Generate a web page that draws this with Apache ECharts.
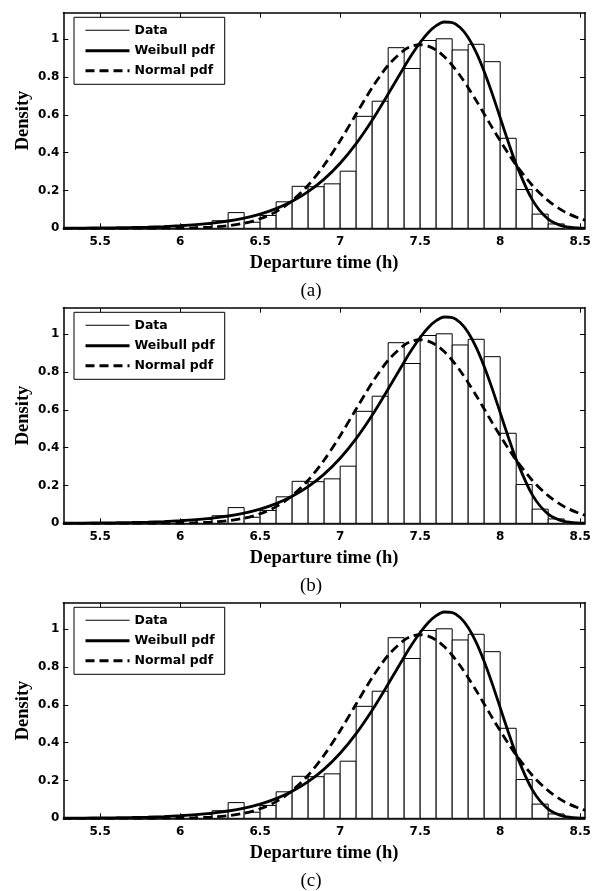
<!DOCTYPE html>
<html>
<head>
<meta charset="utf-8">
<script src="https://cdn.jsdelivr.net/npm/echarts@6/dist/echarts.min.js"></script>
<style>
  html, body { margin: 0; padding: 0; background: #fff; }
  #chart { width: 600px; height: 891px; }
</style>
</head>
<body>
<div id="chart"></div>
<script>
// Histogram of departure times: left edge of each 0.1 h bin and its density
const binStart = [5.3, 5.4, 5.5, 5.6, 5.7, 5.8, 5.9, 6.0, 6.1, 6.2, 6.3, 6.4, 6.5, 6.6, 6.7, 6.8, 6.9,
                  7.0, 7.1, 7.2, 7.3, 7.4, 7.5, 7.6, 7.7, 7.8, 7.9, 8.0, 8.1, 8.2, 8.3];
const binDensity = [0.002, 0.002, 0.004, 0.004, 0.006, 0.010, 0.012, 0.018, 0.020, 0.040, 0.083, 0.032, 0.068, 0.140, 0.222, 0.220, 0.235,
                    0.302, 0.592, 0.672, 0.955, 0.845, 0.993, 1.002, 0.943, 0.973, 0.881, 0.476, 0.205, 0.075, 0.023];
const binWidth = 0.1;

// Fitted density curves sampled along the time axis
const curveX = [5.27, 5.3, 5.4, 5.5, 5.6, 5.7, 5.8, 5.9, 6.0, 6.1, 6.2, 6.3, 6.4, 6.5, 6.6, 6.7, 6.8, 6.9,
                7.0, 7.1, 7.2, 7.3, 7.4, 7.45, 7.5, 7.55, 7.6, 7.65, 7.7, 7.75, 7.8, 7.85, 7.9, 7.95,
                8.0, 8.05, 8.1, 8.2, 8.3, 8.4, 8.5, 8.53];
const weibullPdf = [0.0008, 0.0009, 0.0014, 0.0020, 0.0030, 0.0044, 0.0064, 0.0093, 0.0134, 0.0192, 0.0273, 0.0386, 0.0541, 0.0754, 0.1042, 0.1428, 0.1938, 0.2600,
                    0.3442, 0.4480, 0.5713, 0.7098, 0.8532, 0.9212, 0.9826, 1.0341, 1.0714, 1.0908, 1.0881, 1.0612, 1.0085, 0.9301, 0.8294, 0.7123,
                    0.5850, 0.4579, 0.3385, 0.1517, 0.0488, 0.0103, 0.0013, 0.0008];
const normalPdf = [0.0000, 0.0000, 0.0000, 0.0000, 0.0000, 0.0001, 0.0002, 0.0005, 0.0012, 0.0029, 0.0065, 0.0137, 0.0270, 0.0503, 0.0882, 0.1460, 0.2277, 0.3344,
                   0.4631, 0.6045, 0.7436, 0.8622, 0.9423, 0.9635, 0.9706, 0.9635, 0.9423, 0.9081, 0.8622, 0.8066, 0.7436, 0.6757, 0.6045, 0.5324,
                   0.4631, 0.3966, 0.3344, 0.2277, 0.1460, 0.0882, 0.0503, 0.0420];

// Axis ranges and tick labels
const xRange = [5.27, 8.53];
const yRange = [0, 1.14];
const xTicks = [5.5, 6, 6.5, 7, 7.5, 8, 8.5];
const yTicks = [0, 0.2, 0.4, 0.6, 0.8, 1];
const panelCaptions = ['(a)', '(b)', '(c)'];
const legendNames = ['Data', 'Weibull pdf', 'Normal pdf'];

const PANEL_STEP = 295;
const GRID_LEFT = 63.3, GRID_TOP = 12.7, GRID_W = 521.7, GRID_H = 215.6;

const tickFont = { fontFamily: 'DejaVu Sans', fontWeight: 'bold', fontSize: 12, color: '#000' };
const nameFont = { fontFamily: 'Liberation Serif', fontWeight: 'bold', fontSize: 18.5, color: '#000' };
const black = '#000';

const histData = binStart.map((s, i) => [s, s + binWidth, binDensity[i]]);
const weibullData = curveX.map((x, i) => [x, weibullPdf[i]]);
const normalData = curveX.map((x, i) => [x, normalPdf[i]]);

const grid = [], xAxis = [], yAxis = [], series = [], legend = [], graphic = [];

function fmt(v) { return String(Math.round(v * 10) / 10); }

for (let p = 0; p < 3; p++) {
  const top = GRID_TOP + PANEL_STEP * p;
  grid.push({ left: GRID_LEFT, top: top, width: GRID_W, height: GRID_H, show: false });

  const axisLine = { show: true, onZero: false, lineStyle: { color: black, width: 1.5 } };
  const tick = () => ({ show: true, inside: true, length: 5, lineStyle: { color: black, width: 1 } });

  // bottom and top time axes
  xAxis.push({
    type: 'value', gridIndex: p, position: 'bottom', min: xRange[0], max: xRange[1],
    axisLine: axisLine,
    axisTick: Object.assign(tick(), { customValues: xTicks }),
    axisLabel: Object.assign({ customValues: xTicks, margin: 8, formatter: fmt }, tickFont),
    splitLine: { show: false },
    name: 'Departure time (h)', nameLocation: 'middle', nameGap: 25, nameTextStyle: nameFont
  });
  xAxis.push({
    type: 'value', gridIndex: p, position: 'top', min: xRange[0], max: xRange[1],
    axisLine: axisLine,
    axisTick: Object.assign(tick(), { customValues: xTicks }),
    axisLabel: { show: false },
    splitLine: { show: false }
  });
  // left and right density axes
  yAxis.push({
    type: 'value', gridIndex: p, position: 'left', min: yRange[0], max: yRange[1],
    axisLine: axisLine,
    axisTick: Object.assign(tick(), { customValues: yTicks }),
    axisLabel: Object.assign({ customValues: yTicks, margin: 4, formatter: fmt }, tickFont),
    splitLine: { show: false },
    name: 'Density', nameLocation: 'middle', nameGap: 31, nameMoveOverlap: false, nameTextStyle: nameFont
  });
  yAxis.push({
    type: 'value', gridIndex: p, position: 'right', min: yRange[0], max: yRange[1],
    axisLine: axisLine,
    axisTick: Object.assign(tick(), { customValues: yTicks }),
    axisLabel: { show: false },
    splitLine: { show: false }
  });

  series.push({
    name: 'Data', type: 'custom', xAxisIndex: 2 * p, yAxisIndex: 2 * p,
    data: histData,
    renderItem: function (params, api) {
      const a = api.coord([api.value(0), 0]);
      const b = api.coord([api.value(1), api.value(2)]);
      return {
        type: 'rect',
        shape: { x: a[0], y: b[1], width: b[0] - a[0], height: a[1] - b[1] },
        style: { fill: '#fff', stroke: black, lineWidth: 1 }
      };
    },
    itemStyle: { color: '#fff', borderColor: black },
    z: 1
  });
  series.push({
    name: 'Weibull pdf', type: 'line', xAxisIndex: 2 * p, yAxisIndex: 2 * p,
    data: weibullData, symbol: 'none', smooth: 0.3,
    lineStyle: { color: black, width: 2.8 }, itemStyle: { color: black }, z: 3
  });
  series.push({
    name: 'Normal pdf', type: 'line', xAxisIndex: 2 * p, yAxisIndex: 2 * p,
    data: normalData, symbol: 'none', smooth: 0.3,
    lineStyle: { color: black, width: 2.8, type: [9, 5] }, itemStyle: { color: black }, z: 3
  });

  legend.push({
    orient: 'vertical', left: 74, top: 17.3 + PANEL_STEP * p,
    padding: [6, 10, 7, 10], itemWidth: 44, itemHeight: 14, itemGap: 7,
    backgroundColor: '#fff', borderColor: black, borderWidth: 1, borderRadius: 0,
    selectedMode: false,
    textStyle: { fontFamily: 'DejaVu Sans', fontWeight: 'bold', fontSize: 12.5, color: black },
    data: [
      { name: legendNames[0], icon: 'path://M0,0L0.01,0L0.01,0.01Z M0,6.5L44,6.5L44,7.5L0,7.5Z M0,14L0.01,14L0.01,13.99Z',
        itemStyle: { color: black, borderWidth: 0 } },
      { name: legendNames[1], itemStyle: { opacity: 0 }, lineStyle: { width: 3, color: black } },
      { name: legendNames[2], itemStyle: { opacity: 0 }, lineStyle: { width: 3, color: black, type: [9, 5] } }
    ]
  });

  graphic.push({
    type: 'text', x: 311, y: 282 + PANEL_STEP * p,
    style: { text: panelCaptions[p], align: 'center', fontFamily: 'Liberation Serif', fontSize: 19, fill: black }
  });
}

const chart = echarts.init(document.getElementById('chart'), null, { renderer: 'canvas' });
chart.setOption({
  animation: false,
  backgroundColor: '#fff',
  grid: grid, xAxis: xAxis, yAxis: yAxis, series: series, legend: legend, graphic: graphic
});
</script>
</body>
</html>
